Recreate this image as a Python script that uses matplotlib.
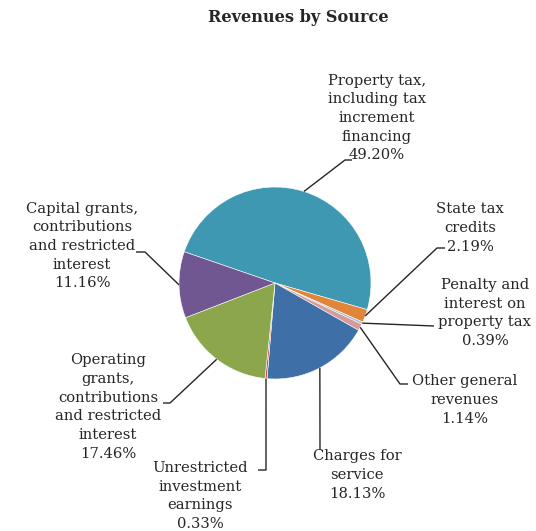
import numpy as np
import matplotlib
matplotlib.use("Agg")
import matplotlib.pyplot as plt

labels = ["Property tax,\nincluding tax\nincrement\nfinancing",
          "State tax\ncredits",
          "Penalty and\ninterest on\nproperty tax",
          "Other general\nrevenues",
          "Charges for\nservice",
          "Unrestricted\ninvestment\nearnings",
          "Operating\ngrants,\ncontributions\nand restricted\ninterest",
          "Capital grants,\ncontributions\nand restricted\ninterest"]
values = [49.20, 2.19, 0.39, 1.14, 18.13, 0.33, 17.46, 11.16]
colors = ["#3F98B1", "#E0853A", "#9DBCE0", "#D69B98", "#3E6FA7", "#C0504D", "#8CA74B", "#715792"]

W, H = 536, 531
fig = plt.figure(figsize=(W/100, H/100), dpi=100)
ax = fig.add_axes([0, 0, 1, 1])

def P(x, y):
    return (x, H - y)

cx, cy = P(275, 283)
R = 96
wedges, _ = ax.pie(values, colors=colors, startangle=161, counterclock=False,
                   center=(cx, cy), radius=R, frame=True,
                   wedgeprops=dict(edgecolor="white", linewidth=0.4))
ax.set_xlim(0, W)
ax.set_ylim(0, H)
ax.set_aspect("equal")
ax.axis("off")

font = "DejaVu Serif"
fs = 10.6

# layout: (elbow point, line end, text center)
layout = [
    (P(345, 160), P(352, 160), P(377, 118)),
    (P(437, 248), P(445, 248), P(470, 228)),
    (P(434, 326), P(434, 326), P(485, 313)),
    (P(400, 384), P(408, 384), P(465, 400)),
    (P(320, 450), P(320, 450), P(357, 475)),
    (P(266, 470), P(258, 470), P(200, 496)),
    (P(170, 403), P(163, 403), P(108, 407)),
    (P(145, 252), P(136, 252), P(82, 246)),
]

for w, v, lab, (elb, end, tc) in zip(wedges, values, labels, layout):
    mid = np.deg2rad((w.theta1 + w.theta2) / 2)
    sx = cx + R * np.cos(mid)
    sy = cy + R * np.sin(mid)
    ax.plot([sx, elb[0], end[0]], [sy, elb[1], end[1]], color="#262626", lw=1.0,
            solid_capstyle="butt")
    ax.text(tc[0], tc[1], f"{lab}\n{v:.2f}%", ha="center", va="center",
            fontsize=fs, family=font, color="#262626", linespacing=1.42)

ax.text(*P(298, 18), "Revenues by Source", ha="center", va="center",
        fontsize=11.6, family=font, fontweight="bold", color="#262626")

fig.savefig("out.png", dpi=100)
